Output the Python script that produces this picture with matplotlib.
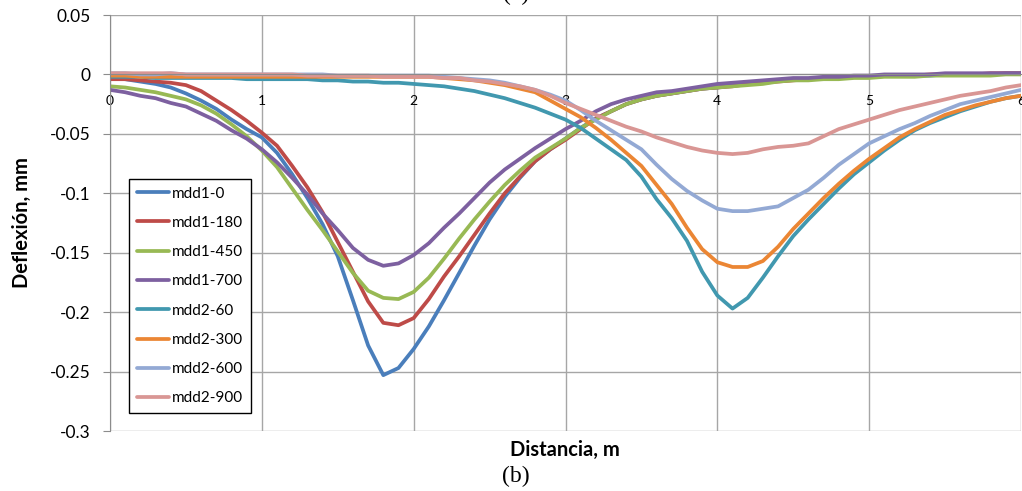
import numpy as np
import matplotlib
matplotlib.use("Agg")
import matplotlib.pyplot as plt

plt.rcParams['font.family'] = ['Lato', 'DejaVu Sans']

# distancia (m), muestreo cada 0.1 m
distancia = np.linspace(0, 6, 61)

mdd1_0 = [-0.003, -0.004, -0.006, -0.008, -0.011, -0.016, -0.022, -0.029, -0.038, -0.046,
          -0.053, -0.066, -0.084, -0.104, -0.126, -0.153, -0.190, -0.228, -0.253, -0.247,
          -0.231, -0.212, -0.190, -0.167, -0.144, -0.122, -0.103, -0.087, -0.073, -0.063,
          -0.054, -0.045, -0.037, -0.031, -0.025, -0.021, -0.018, -0.016, -0.014, -0.012,
          -0.011, -0.009, -0.008, -0.007, -0.005, -0.004, -0.004, -0.003, -0.003, -0.002,
          -0.002, -0.001, -0.001, -0.001, -0.001, 0.000, 0.000, 0.000, 0.000, 0.001, 0.001]
mdd1_180 = [-0.004, -0.004, -0.005, -0.006, -0.007, -0.009, -0.014, -0.022, -0.030, -0.039,
            -0.049, -0.060, -0.077, -0.095, -0.116, -0.141, -0.166, -0.191, -0.209, -0.211,
            -0.205, -0.189, -0.170, -0.153, -0.135, -0.117, -0.100, -0.086, -0.073, -0.063,
            -0.055, -0.046, -0.037, -0.031, -0.025, -0.021, -0.018, -0.016, -0.014, -0.012,
            -0.011, -0.010, -0.008, -0.007, -0.006, -0.005, -0.004, -0.003, -0.003, -0.002,
            -0.002, -0.001, -0.001, -0.001, 0.000, 0.000, 0.000, 0.000, 0.001, 0.001, 0.001]
mdd1_450 = [-0.010, -0.011, -0.013, -0.015, -0.018, -0.021, -0.026, -0.033, -0.042, -0.052,
            -0.064, -0.078, -0.096, -0.114, -0.131, -0.149, -0.167, -0.182, -0.188, -0.189,
            -0.183, -0.171, -0.155, -0.138, -0.122, -0.107, -0.093, -0.081, -0.070, -0.062,
            -0.054, -0.045, -0.038, -0.031, -0.025, -0.021, -0.018, -0.016, -0.014, -0.012,
            -0.011, -0.010, -0.009, -0.008, -0.006, -0.005, -0.005, -0.004, -0.004, -0.003,
            -0.003, -0.002, -0.002, -0.002, -0.001, -0.001, -0.001, -0.001, -0.001, 0.000, 0.000]
mdd1_700 = [-0.013, -0.015, -0.018, -0.020, -0.024, -0.027, -0.033, -0.039, -0.047, -0.054,
            -0.063, -0.074, -0.087, -0.101, -0.117, -0.131, -0.146, -0.156, -0.161, -0.159,
            -0.152, -0.142, -0.129, -0.117, -0.104, -0.091, -0.080, -0.071, -0.062, -0.054,
            -0.046, -0.039, -0.031, -0.025, -0.021, -0.018, -0.015, -0.014, -0.012, -0.010,
            -0.008, -0.007, -0.006, -0.005, -0.004, -0.003, -0.003, -0.002, -0.002, -0.001,
            -0.001, 0.000, 0.000, 0.000, 0.000, 0.001, 0.001, 0.001, 0.001, 0.001, 0.001]
mdd2_60 = [-0.002, -0.002, -0.002, -0.003, -0.003, -0.003, -0.003, -0.003, -0.003, -0.004,
           -0.004, -0.004, -0.004, -0.004, -0.005, -0.005, -0.006, -0.006, -0.007, -0.007,
           -0.008, -0.009, -0.010, -0.012, -0.014, -0.017, -0.020, -0.024, -0.028, -0.033,
           -0.038, -0.045, -0.054, -0.063, -0.072, -0.086, -0.105, -0.121, -0.140, -0.166,
           -0.186, -0.197, -0.188, -0.171, -0.153, -0.136, -0.122, -0.109, -0.096, -0.084,
           -0.074, -0.064, -0.055, -0.047, -0.041, -0.036, -0.031, -0.027, -0.023, -0.020, -0.018]
mdd2_300 = [-0.001, -0.001, -0.002, -0.002, -0.002, -0.002, -0.002, -0.002, -0.002, -0.002,
            -0.002, -0.002, -0.002, -0.002, -0.002, -0.002, -0.002, -0.002, -0.002, -0.002,
            -0.002, -0.002, -0.003, -0.004, -0.005, -0.007, -0.009, -0.012, -0.015, -0.022,
            -0.029, -0.036, -0.045, -0.055, -0.066, -0.077, -0.093, -0.109, -0.129, -0.147,
            -0.158, -0.162, -0.162, -0.157, -0.145, -0.130, -0.117, -0.104, -0.092, -0.081,
            -0.071, -0.062, -0.053, -0.046, -0.040, -0.034, -0.030, -0.026, -0.023, -0.020, -0.018]
mdd2_600 = [0.001, 0.001, 0.000, 0.000, 0.001, 0.000, 0.000, 0.000, 0.000, 0.000,
            0.000, 0.000, 0.000, 0.000, 0.000, -0.001, -0.001, -0.001, -0.001, -0.001,
            -0.001, -0.001, -0.002, -0.003, -0.004, -0.005, -0.007, -0.010, -0.013, -0.017,
            -0.022, -0.030, -0.039, -0.047, -0.055, -0.063, -0.076, -0.088, -0.098, -0.106,
            -0.113, -0.115, -0.115, -0.113, -0.111, -0.104, -0.097, -0.087, -0.076, -0.067,
            -0.058, -0.052, -0.046, -0.041, -0.035, -0.030, -0.025, -0.022, -0.019, -0.016, -0.013]
mdd2_900 = [0.001, 0.001, 0.001, 0.001, 0.001, 0.000, 0.000, 0.000, 0.000, 0.000,
            0.000, 0.000, 0.000, -0.001, -0.001, -0.001, -0.001, -0.001, -0.002, -0.002,
            -0.002, -0.002, -0.003, -0.003, -0.005, -0.006, -0.008, -0.010, -0.013, -0.018,
            -0.024, -0.029, -0.034, -0.039, -0.044, -0.048, -0.053, -0.057, -0.061, -0.064,
            -0.066, -0.067, -0.066, -0.063, -0.061, -0.060, -0.058, -0.052, -0.046, -0.042,
            -0.038, -0.034, -0.030, -0.027, -0.024, -0.021, -0.018, -0.016, -0.014, -0.011, -0.009]

series = [mdd1_0, mdd1_180, mdd1_450, mdd1_700, mdd2_60, mdd2_300, mdd2_600, mdd2_900]
nombres = ["mdd1-0", "mdd1-180", "mdd1-450", "mdd1-700",
           "mdd2-60", "mdd2-300", "mdd2-600", "mdd2-900"]
colores = ["#4A7EBB", "#BE4B48", "#98B954", "#7D60A0",
           "#4198AF", "#EB8634", "#93A9D4", "#D99694"]

y_ticks = [0.05, 0, -0.05, -0.1, -0.15, -0.2, -0.25, -0.3]
y_labels = ["0.05", "0", "-0.05", "-0.1", "-0.15", "-0.2", "-0.25", "-0.3"]
x_ticks = [0, 1, 2, 3, 4, 5, 6]

fig = plt.figure(figsize=(10.22, 4.91), dpi=100)
ax = fig.add_axes([110 / 1022, 1 - 431 / 491, 911 / 1022, 416 / 491])

for vals, nombre, color in zip(series, nombres, colores):
    ax.plot(distancia, vals, color=color, lw=2.7, label=nombre, solid_capstyle='round')

ax.set_xlim(0, 6)
ax.set_ylim(-0.3, 0.05)
ax.set_yticks(y_ticks)
ax.set_yticklabels(y_labels, fontsize=12.5)
ax.set_xticks(x_ticks)
ax.set_xticklabels([str(t) for t in x_ticks], fontsize=12.5)

# eje horizontal cruzando en 0 (estilo Excel)
ax.spines['bottom'].set_position(('data', 0))
ax.spines['bottom'].set_color('#8C8C8C')
ax.spines['left'].set_color('#8C8C8C')
ax.spines['top'].set_visible(False)
ax.spines['right'].set_visible(False)
ax.tick_params(axis='x', length=0, pad=15)
ax.tick_params(axis='y', length=5, color='#8C8C8C', pad=9)

ax.grid(True, color='#A6A6A6', lw=1)
ax.set_axisbelow(True)

fig.text(22 / 1022, 1 - 223 / 491, "Deflexión, mm", rotation=90, ha='center', va='center',
         fontsize=14.5, fontweight='bold')
fig.text(565 / 1022, 1 - 450 / 491, "Distancia, m", ha='center', va='center',
         fontsize=14.5, fontweight='bold')
fig.text(516 / 1022, 1 - 476 / 491, "(b)", ha='center', va='center',
         fontsize=17, family='Liberation Serif')
fig.text(516 / 1022, 1 + 6 / 491, "(a)", ha='center', va='center',
         fontsize=17, family='Liberation Serif')

leg = ax.legend(loc='lower left', bbox_to_anchor=(0.021, 0.043), borderaxespad=0,
                fontsize=11, frameon=True, fancybox=False, handlelength=2.1,
                handletextpad=0.2, labelspacing=1.0, borderpad=0.5)
leg.get_frame().set_edgecolor('black')
leg.get_frame().set_linewidth(1)
leg.get_frame().set_alpha(1)

fig.savefig("out.png", dpi=100)
